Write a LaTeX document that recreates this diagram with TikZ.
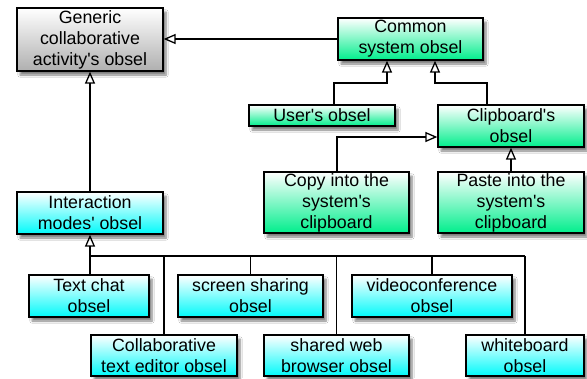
\documentclass[tikz,border=0pt]{standalone}
\usepackage{fontspec}
\setmainfont{Liberation Sans}[Ligatures=TeXOff]
\usetikzlibrary{arrows.meta,shadows.blur}
\definecolor{gbot}{RGB}{0,238,140}
\definecolor{cbot}{RGB}{0,250,250}
\definecolor{graybot}{RGB}{175,175,175}
\tikzset{
  box/.style={draw=black, line width=1.3pt, inner sep=0pt, align=center,
    font=\fontsize{17.8}{21}\selectfont,
    blur shadow={shadow xshift=3pt, shadow yshift=-4pt, shadow blur steps=6, shadow opacity=50}},
  graybox/.style={box, top color=white, bottom color=graybot},
  greenbox/.style={box, top color=white, bottom color=gbot},
  cyanbox/.style={box, top color=white, bottom color=cbot},
  gen/.style={draw=black, line width=1.3pt, -{Triangle[open, width=10pt, length=12pt]}},
  plain/.style={draw=black, line width=1.3pt},
}
\begin{document}
\begin{tikzpicture}[x=1pt,y=-1pt]
\useasboundingbox (0,0) rectangle (587,378);
\fill[white] (0,0) rectangle (587,378);
\node[graybox, minimum width=146pt, minimum height=63pt] (generic) at (90,39.5) {Generic\\collaborative\\activity's obsel};
\node[greenbox, minimum width=145pt, minimum height=42pt] (common) at (410.5,39) {Common\\system obsel};
\node[greenbox, minimum width=146pt, minimum height=21pt] (user) at (322,115.5) {User's obsel};
\node[greenbox, minimum width=146pt, minimum height=42pt] (clip) at (511,126) {Clipboard's\\obsel};
\node[greenbox, minimum width=145pt, minimum height=61pt] (copy) at (336.5,202.5) {Copy into the\\system's\\clipboard};
\node[greenbox, minimum width=146pt, minimum height=61pt] (paste) at (511,202.5) {Paste into the\\system's\\clipboard};
\node[cyanbox, minimum width=146pt, minimum height=42pt] (inter) at (90,213) {Interaction\\modes' obsel};
\node[cyanbox, minimum width=120pt, minimum height=42pt] (chat) at (89,296) {Text chat\\obsel};
\node[cyanbox, minimum width=145pt, minimum height=42pt] (screen) at (250.5,296) {screen sharing\\obsel};
\node[cyanbox, minimum width=160pt, minimum height=42pt] (video) at (432,296) {videoconference\\obsel};
\node[cyanbox, minimum width=146pt, minimum height=41pt] (collab) at (164,355.5) {Collaborative\\text editor obsel};
\node[cyanbox, minimum width=145pt, minimum height=41pt] (web) at (336.5,355.5) {shared web\\browser obsel};
\node[cyanbox, minimum width=118pt, minimum height=41pt] (white) at (525,355.5) {whiteboard\\obsel};

\coordinate (uj) at (334,83);
\coordinate (cj1) at (387,83);
\coordinate (bj) at (487,83);
\coordinate (cj2) at (435,83);
\coordinate (cpj) at (337,137);
\coordinate (h) at (90,256);

\draw[gen] (common.west) -- (common.west -| generic.east);
\draw[gen] (user.north -| uj) -- (uj) -- (cj1) -- (common.south -| cj1);
\draw[gen] (clip.north -| bj) -- (bj) -- (cj2) -- (common.south -| cj2);
\draw[gen] (copy.north -| cpj) -- (cpj) -- (cpj -| clip.west);
\draw[gen] (paste.north) -- (clip.south);
\draw[gen] (inter.north) -- (generic.south);
\draw[gen] (inter.south |- chat.north) -- (inter.south);
\draw[plain] (h) -- (h -| white.north);
\draw[plain] (collab.north) -- (collab.north |- h);
\draw[plain] (screen.north) -- (screen.north |- h);
\draw[plain] (web.north) -- (web.north |- h);
\draw[plain] (video.north) -- (video.north |- h);
\draw[plain] (white.north) -- (white.north |- h);
\end{tikzpicture}
\end{document}
